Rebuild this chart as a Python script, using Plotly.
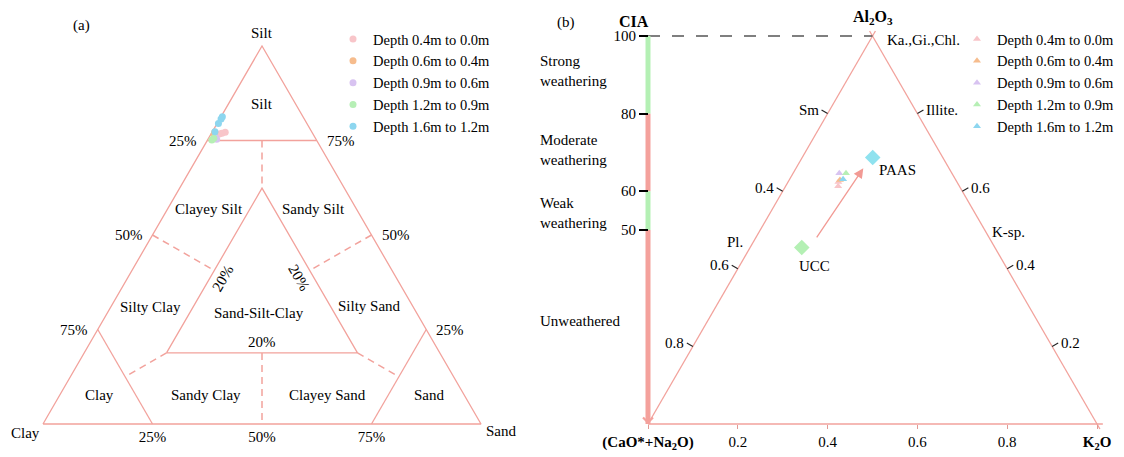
import plotly.graph_objects as go

W, H = 1124, 457
FONT = "Liberation Serif"
TRI = "#f2a29c"

# ---------------- data ----------------
depth_labels = ["Depth 0.4m to 0.0m", "Depth 0.6m to 0.4m", "Depth 0.9m to 0.6m",
                "Depth 1.2m to 0.9m", "Depth 1.6m to 1.2m"]
depth_colors = ["#f8c5c9", "#f6bc8d", "#d8c3f1", "#b6efb5", "#8dd6ef"]

# panel (a): grain size composition, percent (clay = 100 - silt - sand)
silt_pct = [[76.9, 76.7, 77.2], [76.5, 77.2], [75.3, 75.8], [75.6, 75.1], [81.3, 80.7, 79.5, 77.3]]
sand_pct = [[2.4, 1.9, 3.0], [0.8, 0.6], [2.0, 1.5], [1.2, 1.0], [0.3, 0.3, 0.3, 0.6]]
major_pct = 75.0     # end-member limit (Silt / Clay / Sand fields)
inner_pct = 18.8     # Sand-Silt-Clay field limit
edge_pct = [25, 50, 75]

# panel (b): A-CN-K, molar percent
al2o3_pct = [[62.4, 61.3], [62.9], [64.6], [64.6], [63.1]]
k2o_pct = [[11.2, 11.7], [11.3], [10.3], [11.8], [11.9]]
ref_names = ["PAAS", "UCC"]
ref_al2o3 = [68.7, 45.5]
ref_k2o = [15.7, 11.5]
ref_colors = ["#8fe2ef", "#b4f0b4"]
trend_start = (47.7, 13.5)   # (Al2O3, K2O)
trend_end = (65.9, 15.0)
cia_bounds = [0, 50, 60, 80, 100]
cia_colors = ["#f4a19c", "#b4f0b4", "#f4a19c", "#b4f0b4"]
cia_zone_names = ["Unweathered", "Weak<br>weathering", "Moderate<br>weathering", "Strong<br>weathering"]
cia_label_at = [26.5, 54.5, 70.5, 91.0]
cia_ticks = [50, 60, 80, 100]
bottom_ticks = [0, 0.2, 0.4, 0.6, 0.8, 1.0]
bottom_text = ["<b>(CaO*+Na<sub>2</sub>O)</b>", "0.2", "0.4", "0.6", "0.8", "<b>K<sub>2</sub>O</b>"]
left_edge_al = [0.8, 0.6, 0.4, 0.2]
left_edge_text = ["Sm", "0.4", "0.6", "0.8"]
right_edge_al = [0.8, 0.6, 0.4, 0.2]
right_edge_text = ["Illite.", "0.6", "0.4", "0.2"]

# ---------------- helpers ----------------
def tern_a(clay, silt, sand):
    t = clay + silt + sand
    return (sand + silt / 2) / t, silt / t

def tern_b(al, k):
    return k / 100 + al / 200, al

fig = go.Figure()

def segs(seglist, xa, ya, color, width, dash="solid"):
    xs, ys = [], []
    for s in seglist:
        for (x, y) in s:
            xs.append(x); ys.append(y)
        xs.append(None); ys.append(None)
    fig.add_trace(go.Scatter(x=xs, y=ys, mode="lines", xaxis=xa, yaxis=ya,
                             line=dict(color=color, width=width, dash=dash),
                             showlegend=False, hoverinfo="skip"))

# ---------------- panel (a) ----------------
M = major_pct / 100
p = inner_pct / 100
h = (1 - M) / 2
outer = [tern_a(1, 0, 0), tern_a(0, 0, 1), tern_a(0, 1, 0), tern_a(1, 0, 0)]
major = [[tern_a(1 - M, M, 0), tern_a(0, M, 1 - M)],
         [tern_a(M, 1 - M, 0), tern_a(M, 0, 1 - M)],
         [tern_a(0, 1 - M, M), tern_a(1 - M, 0, M)]]
inner = [tern_a(1 - 2 * p, p, p), tern_a(p, p, 1 - 2 * p), tern_a(p, 1 - 2 * p, p), tern_a(1 - 2 * p, p, p)]
dashed = [[tern_a(h, M, h), tern_a(p, 1 - 2 * p, p)],
          [tern_a(0.5, 0.5, 0), tern_a((1 - p) / 2, (1 - p) / 2, p)],
          [tern_a(0, 0.5, 0.5), tern_a(p, (1 - p) / 2, (1 - p) / 2)],
          [tern_a(1 - 2 * p, p, p), tern_a(M, h, h)],
          [tern_a(p, p, 1 - 2 * p), tern_a(h, h, M)],
          [tern_a((1 - p) / 2, p, (1 - p) / 2), tern_a(0.5, 0, 0.5)]]
segs([outer] + major + [inner], "x", "y", TRI, 1.3)
segs(dashed, "x", "y", TRI, 1.5, "7px,5px")

for i, lab in enumerate(depth_labels):
    xs, ys = [], []
    for s, sd in zip(silt_pct[i], sand_pct[i]):
        x, y = tern_a(100 - s - sd, s, sd)
        xs.append(x); ys.append(y)
    fig.add_trace(go.Scatter(x=xs, y=ys, mode="markers", name=lab, xaxis="x", yaxis="y",
                             marker=dict(color=depth_colors[i], size=7, symbol="circle"),
                             legend="legend"))

# ---------------- panel (b) ----------------
ext = 0.013
apex = (0.5, 100.0)
segs([[(0, 0), (0.5 + 0.5 * ext, 100 + 100 * ext)],
      [(0.5 - 0.5 * ext, 100 + 100 * ext), (1 + 0.5 * ext, -100 * ext)],
      [(0, 0), (1 + ext, 0)]], "x2", "y2", TRI, 1.3)
segs([[(0, 100), apex]], "x2", "y2", "#555555", 1.4, "12px,12px")
for col in set(cia_colors):
    segs([[(0, cia_bounds[i]), (0, cia_bounds[i + 1])] for i in range(4) if cia_colors[i] == col],
         "x2", "y2", col, 5)

XS, YS = 449.0, 3.88   # px per unit (x2, y2)
L = 7.0
tick_l = [[(a / 2, 100 * a), (a / 2 - 0.866 * L / XS, 100 * a + 0.5 * L / YS)] for a in left_edge_al]
tick_r = [[(1 - a / 2, 100 * a), (1 - a / 2 + 0.866 * L / XS, 100 * a + 0.5 * L / YS)] for a in right_edge_al]
segs(tick_l + tick_r, "x2", "y2", "#222222", 1.1)

for i, lab in enumerate(depth_labels):
    xs, ys = [], []
    for al, k in zip(al2o3_pct[i], k2o_pct[i]):
        x, y = tern_b(al, k)
        xs.append(x); ys.append(y)
    fig.add_trace(go.Scatter(x=xs, y=ys, mode="markers", name=lab, xaxis="x2", yaxis="y2",
                             marker=dict(color=depth_colors[i], size=7, symbol="triangle-up"),
                             legend="legend2"))
for i, nm in enumerate(ref_names):
    x, y = tern_b(ref_al2o3[i], ref_k2o[i])
    fig.add_trace(go.Scatter(x=[x], y=[y], mode="markers", xaxis="x2", yaxis="y2", showlegend=False,
                             marker=dict(color=ref_colors[i], size=12, symbol="diamond"), hoverinfo="skip"))

# ---------------- annotations ----------------
ann = []
def A(text, x, y, ref="", size=15, xanchor="center", yanchor="middle", xshift=0, yshift=0, angle=0):
    ann.append(dict(text=text, x=x, y=y, xref="x" + ref, yref="y" + ref, showarrow=False,
                    xanchor=xanchor, yanchor=yanchor, xshift=xshift, yshift=yshift, textangle=angle,
                    font=dict(family=FONT, size=size, color="black")))

A("(a)", 0.089, 1.053)
region_a = [("Silt", 0.5, 1.034), ("Silt", 0.5, 0.847), ("Clayey Silt", 0.379, 0.569),
            ("Sandy Silt", 0.618, 0.569), ("Silty Clay", 0.246, 0.309), ("Sand-Silt-Clay", 0.493, 0.293),
            ("Silty Sand", 0.746, 0.313), ("Clay", 0.1285, 0.0767), ("Sandy Clay", 0.371, 0.0767),
            ("Clayey Sand", 0.650, 0.0767), ("Sand", 0.883, 0.0767), ("Clay", -0.041, -0.0246),
            ("Sand", 1.0475, -0.0185)]
for t, x, y in region_a:
    A(t, x, y)
for v in edge_pct:
    x, y = tern_a(v, 100 - v, 0)
    A(f"{v}%", x, y, xanchor="right", xshift=-8)
    x, y = tern_a(0, v, 100 - v)
    A(f"{v}%", x, y, xanchor="left", xshift=8)
A("20%", 0.5, p, yanchor="bottom", yshift=1)
A("20%", 0.411, 0.386, angle=-60)
A("20%", 0.585, 0.386, angle=60)

# panel (b)
A("(b)", -0.183, 103.4, ref="2")
A("<b>CIA</b>", 0, 103.8, ref="2", xshift=-14, size=16)
A("<b>Al<sub>2</sub>O<sub>3</sub></b>", 0.5, 100, ref="2", yanchor="bottom", yshift=7, size=16)
A("Ka.,Gi.,Chl.", 0.5, 100, ref="2", xanchor="left", xshift=12, yshift=-4)
for i, nm in enumerate(cia_zone_names):
    A(nm, -0.245, cia_label_at[i], ref="2", xanchor="left")
    ann[-1]["align"] = "left"
for (seg, t) in zip(tick_l, left_edge_text):
    A(t, seg[1][0], seg[1][1], ref="2", xanchor="right", xshift=-1)
for (seg, t) in zip(tick_r, right_edge_text):
    A(t, seg[1][0], seg[1][1], ref="2", xanchor="left", xshift=1)
A("Pl.", 0.47 / 2, 47, ref="2", xanchor="right", xshift=-9)
A("K-sp.", 1 - 0.496 / 2, 49.6, ref="2", xanchor="left", xshift=4)
x, y = tern_b(ref_al2o3[0], ref_k2o[0])
A("PAAS", x, y, ref="2", xanchor="left", xshift=4, yshift=-13)
x, y = tern_b(ref_al2o3[1], ref_k2o[1])
A("UCC", x, y, ref="2", xshift=13, yshift=-19)

hx, hy = tern_b(trend_end[0], trend_end[1])
tx, ty = tern_b(trend_start[0], trend_start[1])
ann.append(dict(text="", x=hx, y=hy, ax=tx, ay=ty, xref="x2", yref="y2", axref="x2", ayref="y2",
                showarrow=True, arrowhead=2, arrowsize=1.5, arrowwidth=1.3, arrowcolor="#f29a94", standoff=0))
ann.append(dict(text="", x=0, y=0, ax=0, ay=6, xref="x2", yref="y2", axref="x2", ayref="y2",
                showarrow=True, arrowhead=4, arrowsize=1.6, arrowwidth=1.2, arrowcolor="#f4a19c", standoff=0))

# ---------------- layout ----------------
SPLIT = 520
LEG_FONT = dict(family=FONT, size=14.5, color="black")
fig.update_layout(
    width=W, height=H, margin=dict(l=0, r=0, t=0, b=0, pad=0),
    paper_bgcolor="white", plot_bgcolor="white",
    font=dict(family=FONT, size=15, color="black"),
    annotations=ann,
    xaxis=dict(domain=[0, SPLIT / W], range=[-43 / 438, (SPLIT - 43) / 438], anchor="free",
               position=(H - 424) / H, showgrid=False, zeroline=False, showline=False, ticks="",
               tickvals=[tern_a(100 - v, 0, v)[0] for v in edge_pct], ticktext=[f"{v}%" for v in edge_pct],
               tickfont=dict(family=FONT, size=15, color="black"), ticklabelstandoff=2),
    yaxis=dict(domain=[0, 1], range=[(424 - H) / 378, 424 / 378], visible=False),
    xaxis2=dict(domain=[SPLIT / W, 1], range=[(SPLIT - 648) / XS, (W - 648) / XS], anchor="free",
                position=(H - 424) / H, showgrid=False, zeroline=False, showline=False,
                ticks="outside", ticklen=4, tickwidth=1, tickcolor="#e29a94",
                tickvals=bottom_ticks, ticktext=bottom_text,
                tickfont=dict(family=FONT, size=15, color="black")),
    yaxis2=dict(domain=[0, 1], range=[(424 - H) / YS, 424 / YS], anchor="free", position=648 / W,
                showgrid=False, zeroline=False, showline=False, ticks="outside", ticklen=9,
                tickwidth=2, tickcolor="black", tickvals=cia_ticks,
                tickfont=dict(family=FONT, size=15, color="black")),
    legend=dict(x=(373 - 40) / W, y=1 - 23 / H, xanchor="left", yanchor="top",
                font=LEG_FONT, bgcolor="rgba(0,0,0,0)", tracegroupgap=0),
    legend2=dict(x=(997 - 40) / W, y=1 - 23 / H, xanchor="left", yanchor="top",
                 font=LEG_FONT, bgcolor="rgba(0,0,0,0)", tracegroupgap=0),
)

fig.write_html("out.html", config={"displayModeBar": False},
               post_script="document.body.style.margin='0';document.body.style.overflow='hidden';")
